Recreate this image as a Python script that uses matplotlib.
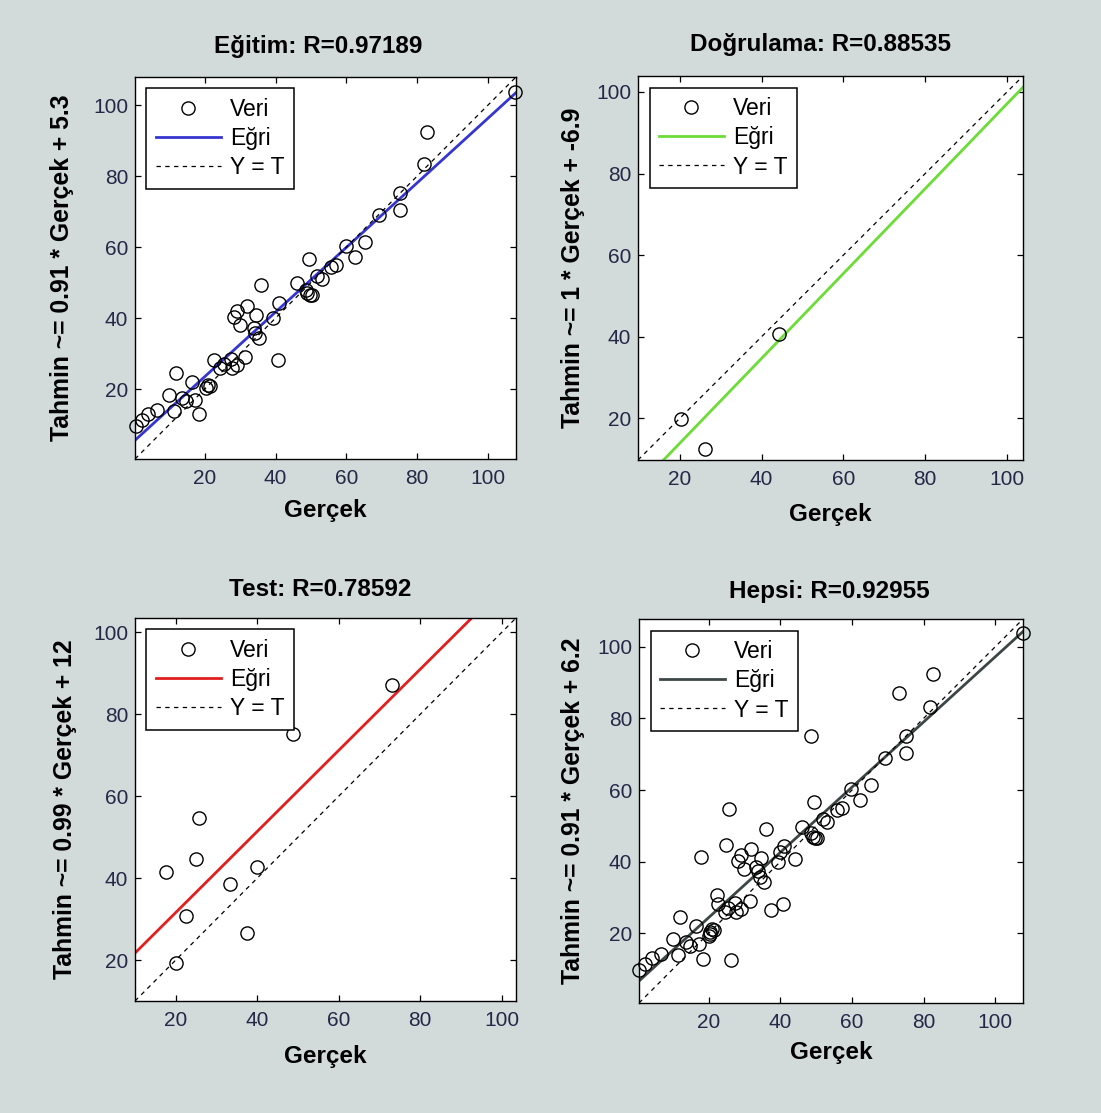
import numpy as np
import matplotlib
matplotlib.use("Agg")
import matplotlib.pyplot as plt
from matplotlib import font_manager

# Eğitim verisi (Gerçek, Tahmin)
egitim_gercek = [107.7, 82.7, 81.8, 75.0, 75.2, 69.3, 59.8, 65.3, 62.3, 49.4,
                 57.1, 55.7, 51.8, 53.0, 46.1, 36.0, 48.5, 49.0, 49.6, 50.3,
                 41.0, 39.3, 31.9, 29.1, 28.2, 34.6, 29.9, 33.8, 34.2, 35.4,
                 40.8, 31.4, 22.6, 24.4, 25.3, 27.4, 27.7, 29.0, 12.0, 16.5,
                 20.3, 21.0, 21.5, 10.0, 13.5, 17.3, 14.8, 11.3, 18.5, 6.6,
                 4.0, 2.3, 0.5]
egitim_tahmin = [103.8, 92.5, 83.3, 75.1, 70.4, 69.0, 60.4, 61.3, 57.1, 56.6,
                 55.0, 54.4, 51.9, 51.0, 49.8, 49.2, 48.0, 47.0, 46.5, 46.5,
                 44.3, 39.9, 43.4, 41.9, 40.3, 40.9, 38.0, 37.3, 35.8, 34.3,
                 28.2, 29.1, 28.2, 26.0, 27.0, 28.5, 26.0, 26.8, 24.4, 22.1,
                 20.4, 21.2, 20.8, 18.4, 17.5, 17.0, 16.5, 13.8, 12.9, 14.1,
                 13.1, 11.4, 9.7]

# Doğrulama verisi
dogrulama_gercek = [20.3, 26.1, 44.2]
dogrulama_tahmin = [19.9, 12.4, 40.7]

# Test verisi
test_gercek = [73.1, 48.7, 25.7, 17.7, 24.9, 40.0, 33.3, 22.4, 37.4, 20.1]
test_tahmin = [87.1, 75.1, 54.7, 41.4, 44.6, 42.6, 38.5, 30.7, 26.6, 19.3]

# Hepsi = tüm veriler
hepsi_gercek = egitim_gercek + dogrulama_gercek + test_gercek
hepsi_tahmin = egitim_tahmin + dogrulama_tahmin + test_tahmin

basliklar = ["Eğitim: R=0.97189", "Doğrulama: R=0.88535",
             "Test: R=0.78592", "Hepsi: R=0.92955"]
ylabels = ["Tahmin ~= 0.91 * Gerçek + 5.3", "Tahmin ~= 1 * Gerçek + -6.9",
           "Tahmin ~= 0.99 * Gerçek + 12", "Tahmin ~= 0.91 * Gerçek + 6.2"]
egimler = [0.91, 1.04, 0.99, 0.91]
sabitler = [5.3, -6.9, 11.8, 6.2]
limitler = [(0.3, 107.9), (9.8, 103.9), (10.0, 103.5), (0.5, 107.8)]
renkler = ["#3535d2", "#6cdc36", "#e21f1f", "#3d4646"]
tikler = [20, 40, 60, 80, 100]

veriler = [(egitim_gercek, egitim_tahmin), (dogrulama_gercek, dogrulama_tahmin),
           (test_gercek, test_tahmin), (hepsi_gercek, hepsi_tahmin)]

# Yazı tipleri
ana_font = "Liberation Sans"
isimler = {f.name for f in font_manager.fontManager.ttflist}
tik_font = "Liberation Sans Narrow" if "Liberation Sans Narrow" in isimler else ana_font

W, H = 1101, 1113
fig = plt.figure(figsize=(W / 100, H / 100), dpi=100)
fig.patch.set_facecolor("#d2dbda")

# eksen kutuları (piksel): sol, üst, sağ, alt
kutular = [(135, 77, 516, 459), (638, 76, 1023, 460),
           (135, 618, 516, 1001), (639, 619, 1023, 1003)]
ylabel_x = [62, 573, 65, 573]
xlabel_y = [511, 515, 1056, 1053]
baslik_y = [47, 44, 590, 592]
baslik_x = [318, 820, 320, 829]

for i in range(4):
    sol, ust, sag, alt = kutular[i]
    ax = fig.add_axes([sol / W, 1 - alt / H, (sag - sol) / W, (alt - ust) / H])
    ax.set_facecolor("white")
    g, t = veriler[i]
    lo, hi = limitler[i]
    xs = np.array([lo, hi])

    # MATLAB gibi: kenardaki işaretler kırpılmaz
    l_veri, = ax.plot(g, t, "o", mfc="none", mec="black", ms=9.5, mew=1.0,
                      label="Veri", zorder=3, clip_on=False)
    l_egri, = ax.plot(xs, egimler[i] * xs + sabitler[i], "-", color=renkler[i],
                      lw=2.0, label="Eğri", zorder=2)
    l_yt, = ax.plot(xs, xs, "--", color="black", lw=0.9, dashes=(3.5, 3.5),
                    label="Y = T", zorder=2)

    ax.set_xlim(lo, hi)
    ax.set_ylim(lo, hi)
    ax.set_xticks(tikler)
    ax.set_yticks(tikler)
    ax.tick_params(direction="in", length=4, width=0.9, top=True, right=True,
                   labelsize=15, labelcolor="#272748")
    ax.tick_params(axis="x", pad=7)
    ax.tick_params(axis="y", pad=5)
    for lab in ax.get_xticklabels() + ax.get_yticklabels():
        lab.set_fontfamily(tik_font)
    for sp in ax.spines.values():
        sp.set_linewidth(1.0)

    leg = ax.legend(handles=[l_veri, l_egri, l_yt], loc="upper left",
                    bbox_to_anchor=(0.03, 0.97), borderaxespad=0,
                    fancybox=False, edgecolor="black", framealpha=1,
                    prop={"family": ana_font, "size": 16.5},
                    handlelength=2.85, handletextpad=0.4, labelspacing=0.28,
                    borderpad=0.4, numpoints=1)
    leg.get_frame().set_linewidth(1.1)
    leg.set_zorder(5)

    fig.text(baslik_x[i] / W, 1 - baslik_y[i] / H, basliklar[i], ha="center",
             va="center", fontsize=17.5, fontweight="bold", family=ana_font)
    fig.text(ylabel_x[i] / W, 1 - ((ust + alt) / 2) / H, ylabels[i],
             rotation=90, ha="center", va="center", fontsize=17.8,
             fontweight="bold", family=ana_font)
    fig.text(((sol + sag) / 2) / W, 1 - xlabel_y[i] / H, "Gerçek", ha="center",
             va="center", fontsize=17.5, fontweight="bold", family=ana_font)

fig.savefig("out.png", dpi=100, facecolor=fig.get_facecolor())
